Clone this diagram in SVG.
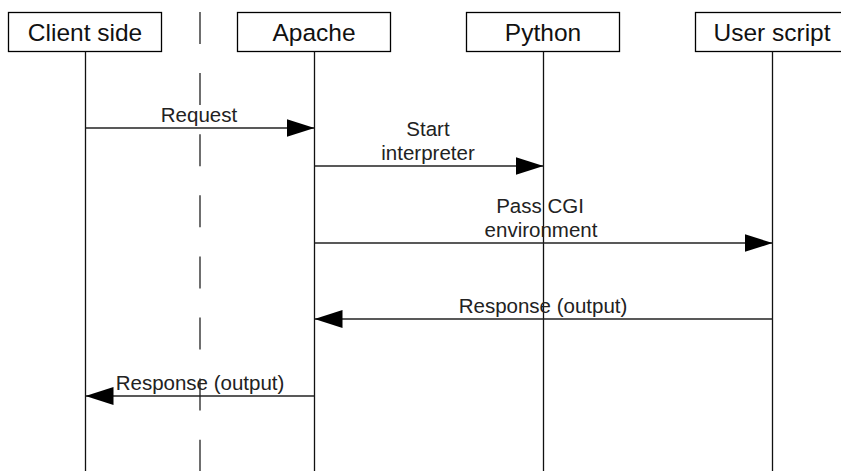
<svg xmlns="http://www.w3.org/2000/svg" width="841" height="471" viewBox="0 0 841 471">
<defs>
<style>
.box{fill:#fff;stroke:#000;stroke-width:1.3}
.life{stroke:#111;stroke-width:1.3;fill:none}
.msg{stroke:#222;stroke-width:1.3;fill:none}
.sep{stroke:#222;stroke-width:1.3;stroke-dasharray:32 29.1}
.hd{font-family:"Liberation Sans",Arial,sans-serif;font-size:24.5px;fill:#111;text-anchor:middle}
.lb{font-family:"Liberation Sans",Arial,sans-serif;font-size:20.5px;fill:#222;text-anchor:middle}
</style>
<marker id="ah" markerUnits="userSpaceOnUse" markerWidth="30" markerHeight="20" refX="28" refY="9" orient="auto">
<path d="M0,0 L28,9 L0,18 Z" fill="#000"/>
</marker>
</defs>
<rect width="841" height="471" fill="#fff"/>
<line class="sep" x1="200" y1="12" x2="200" y2="471"/>
<g id="client">
<rect class="box" x="8.5" y="12.5" width="153" height="39"/>
<text class="hd" x="85" y="41">Client side</text>
<line class="life" x1="85.5" y1="51.5" x2="85.5" y2="471"/>
</g>
<g id="apache">
<rect class="box" x="237.5" y="12.5" width="153" height="39"/>
<text class="hd" x="314" y="41">Apache</text>
<line class="life" x1="314.5" y1="51.5" x2="314.5" y2="471"/>
</g>
<g id="python">
<rect class="box" x="466.5" y="12.5" width="153" height="39"/>
<text class="hd" x="543" y="41">Python</text>
<line class="life" x1="543.5" y1="51.5" x2="543.5" y2="471"/>
</g>
<g id="userscript">
<rect class="box" x="695.5" y="12.5" width="153" height="39"/>
<text class="hd" x="772" y="41">User script</text>
<line class="life" x1="772.5" y1="51.5" x2="772.5" y2="471"/>
</g>
<g id="connectors">
<line class="msg" x1="85.5" y1="128" x2="314.5" y2="128" marker-end="url(#ah)"/>
<line class="msg" x1="314.5" y1="166" x2="543.5" y2="166" marker-end="url(#ah)"/>
<line class="msg" x1="314.5" y1="243" x2="772.5" y2="243" marker-end="url(#ah)"/>
<line class="msg" x1="772.5" y1="319" x2="314.5" y2="319" marker-end="url(#ah)"/>
<line class="msg" x1="314.5" y1="396" x2="85.5" y2="396" marker-end="url(#ah)"/>
<text class="lb" x="199" y="122">Request</text>
<text class="lb" x="428" y="136">Start</text>
<text class="lb" x="428" y="160">interpreter</text>
<text class="lb" x="540" y="213">Pass CGI</text>
<text class="lb" x="541" y="237">environment</text>
<text class="lb" x="543" y="313">Response (output)</text>
<text class="lb" x="200" y="390">Response (output)</text>
</g>
</svg>
